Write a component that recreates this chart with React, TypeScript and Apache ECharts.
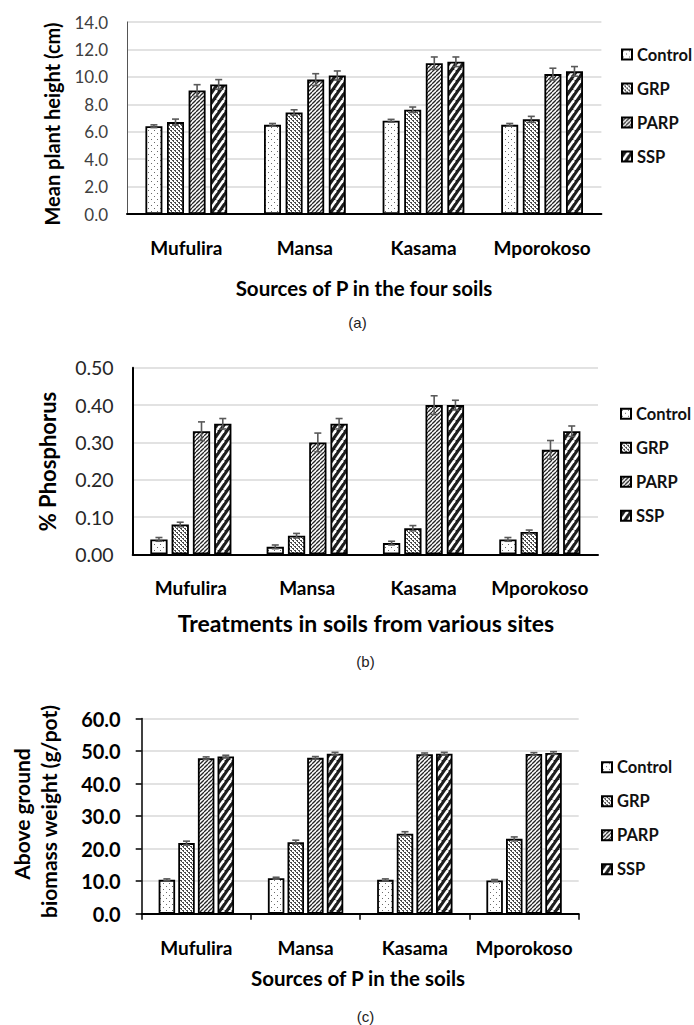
import React, { useEffect, useRef } from 'react';
import * as echarts from 'echarts';

const categories = ['Mufulira', 'Mansa', 'Kasama', 'Mporokoso'];
const treatments = ['Control', 'GRP', 'PARP', 'SSP'];

// (a) Mean plant height (cm)
const heightControl = [6.4, 6.5, 6.8, 6.5];
const heightGRP = [6.7, 7.4, 7.6, 6.9];
const heightPARP = [9.0, 9.8, 11.0, 10.2];
const heightSSP = [9.45, 10.1, 11.1, 10.4];
const heightErrControl = [0.1, 0.1, 0.1, 0.1];
const heightErrGRP = [0.22, 0.2, 0.2, 0.22];
const heightErrPARP = [0.43, 0.43, 0.45, 0.43];
const heightErrSSP = [0.35, 0.33, 0.35, 0.35];

// (b) % Phosphorus
const phosControl = [0.04, 0.02, 0.03, 0.04];
const phosGRP = [0.08, 0.05, 0.07, 0.06];
const phosPARP = [0.33, 0.3, 0.4, 0.28];
const phosSSP = [0.35, 0.35, 0.4, 0.33];
const phosErrControl = [0.005, 0.005, 0.005, 0.005];
const phosErrGRP = [0.006, 0.006, 0.007, 0.005];
const phosErrPARP = [0.025, 0.025, 0.025, 0.025];
const phosErrSSP = [0.014, 0.014, 0.013, 0.014];

// (c) Above ground biomass weight (g/pot)
const bioControl = [10.4, 10.9, 10.4, 10.2];
const bioGRP = [21.7, 22.0, 24.6, 23.0];
const bioPARP = [47.8, 47.9, 49.0, 49.1];
const bioSSP = [48.3, 49.2, 49.2, 49.4];
const bioErrControl = [0.3, 0.3, 0.3, 0.3];
const bioErrGRP = [0.6, 0.6, 0.6, 0.6];
const bioErrPARP = [0.4, 0.4, 0.4, 0.4];
const bioErrSSP = [0.4, 0.4, 0.4, 0.4];

const FONT = 'Lato, "Open Sans", sans-serif';

function makePattern(kind: string): any {
  const c = document.createElement('canvas');
  let w = 6, h = 6;
  if (kind === 'GRP') { w = 4; h = 4; }
  if (kind === 'PARP') { w = 4; h = 4; }
  if (kind === 'SSP') { w = 7; h = 10; }
  c.width = w; c.height = h;
  const ctx = c.getContext('2d')!;
  if (kind === 'Control') {
    ctx.fillStyle = '#ffffff'; ctx.fillRect(0, 0, w, h);
    ctx.fillStyle = '#6a6a6a';
    ctx.fillRect(1, 1, 1, 1);
    ctx.fillRect(4, 4, 1, 1);
  } else if (kind === 'GRP') {
    ctx.fillStyle = '#ffffff'; ctx.fillRect(0, 0, w, h);
    ctx.fillStyle = '#4a4a4a';
    ctx.fillRect(0, 0, 2, 1);
    ctx.fillRect(1, 1, 1, 1);
    ctx.fillRect(2, 2, 2, 1);
    ctx.fillRect(3, 3, 1, 1);
  } else if (kind === 'PARP') {
    ctx.fillStyle = '#ffffff'; ctx.fillRect(0, 0, w, h);
    ctx.strokeStyle = '#262626'; ctx.lineWidth = 1.3;
    for (const x0 of [-w, 0, w]) {
      ctx.beginPath(); ctx.moveTo(x0, h); ctx.lineTo(x0 + w, 0); ctx.stroke();
    }
  } else {
    ctx.fillStyle = '#1e1e1e'; ctx.fillRect(0, 0, w, h);
    ctx.strokeStyle = '#ffffff'; ctx.lineWidth = 2.6;
    for (const x0 of [-w, 0, w]) {
      ctx.beginPath(); ctx.moveTo(x0, h); ctx.lineTo(x0 + w, 0); ctx.stroke();
    }
  }
  return { image: c, repeat: 'repeat', imageWidth: w, imageHeight: h };
}

type Panel = {
  values: number[][];
  errors: number[][];
  grid: any;
  max: number;
  interval: number;
  decimals: number;
  barWidth: number;
  barGapRatio: number;
  yLabelFont: any;
  yLabelMargin: number;
  yLineColor: string;
  yLineWidth: number;
  ticks: boolean;
};

const panels: Panel[] = [
  {
    values: [heightControl, heightGRP, heightPARP, heightSSP],
    errors: [heightErrControl, heightErrGRP, heightErrPARP, heightErrSSP],
    grid: { left: 127, right: 92.6, top: 22, bottom: 811 },
    max: 14, interval: 2, decimals: 1,
    barWidth: 17, barGapRatio: 0.27,
    yLabelFont: { fontSize: 17, fontWeight: 'normal', color: '#404040' },
    yLabelMargin: 19, yLineColor: '#555', yLineWidth: 1, ticks: false,
  },
  {
    values: [phosControl, phosGRP, phosPARP, phosSSP],
    errors: [phosErrControl, phosErrGRP, phosErrPARP, phosErrSSP],
    grid: { left: 132.7, right: 96, top: 367.8, bottom: 470.7 },
    max: 0.5, interval: 0.1, decimals: 2,
    barWidth: 17.3, barGapRatio: 0.23,
    yLabelFont: { fontSize: 19.5, fontWeight: 'normal', color: '#262626' },
    yLabelMargin: 19, yLineColor: '#000', yLineWidth: 2, ticks: false,
  },
  {
    values: [bioControl, bioGRP, bioPARP, bioSSP],
    errors: [bioErrControl, bioErrGRP, bioErrPARP, bioErrSSP],
    grid: { left: 141.7, right: 115.3, top: 718.5, bottom: 111.3 },
    max: 60, interval: 10, decimals: 1,
    barWidth: 16.5, barGapRatio: 0.19,
    yLabelFont: { fontSize: 20, fontWeight: 'bold', color: '#000' },
    yLabelMargin: 21, yLineColor: '#000', yLineWidth: 1.5, ticks: true,
  },
];

const legendPos = [
  { left: 621, top: 46 },
  { left: 620, top: 405.3 },
  { left: 601, top: 758.7 },
];

function buildOption() {
  const patterns = treatments.map((t) => makePattern(t));
  const grid: any[] = [];
  const xAxis: any[] = [];
  const yAxis: any[] = [];
  const series: any[] = [];
  const legend: any[] = [];

  panels.forEach((p, pi) => {
    grid.push({ ...p.grid, containLabel: false });
    xAxis.push({
      type: 'category', gridIndex: pi, data: categories,
      axisLine: { lineStyle: { color: '#000', width: 2 } },
      axisTick: { show: p.ticks, length: 6, lineStyle: { color: '#000', width: 1.5 } },
      axisLabel: { interval: 0, margin: 24, fontFamily: FONT, fontSize: 19, fontWeight: 'bold', color: '#000' },
    });
    yAxis.push({
      type: 'value', gridIndex: pi, min: 0, max: p.max, interval: p.interval,
      axisLine: { show: true, lineStyle: { color: p.yLineColor, width: p.yLineWidth } },
      axisTick: { show: p.ticks, length: 6, lineStyle: { color: '#000', width: 1.5 } },
      splitLine: { lineStyle: { color: '#d9d9d9', width: 1.5 } },
      axisLabel: {
        margin: p.yLabelMargin, fontFamily: FONT, ...p.yLabelFont,
        formatter: (v: number) => v.toFixed(p.decimals),
      },
    });
    treatments.forEach((t, si) => {
      series.push({
        type: 'bar', name: t, xAxisIndex: pi, yAxisIndex: pi,
        data: p.values[si], barWidth: p.barWidth, barGap: (p.barGapRatio * 100) + '%',
        itemStyle: { color: patterns[si], borderColor: '#000', borderWidth: 1.8 },
        z: 2,
      });
    });
    const errData: number[][] = [];
    treatments.forEach((t, si) => {
      categories.forEach((c, ci) => {
        errData.push([ci, si, p.values[si][ci], p.errors[si][ci]]);
      });
    });
    const pitch = p.barWidth * (1 + p.barGapRatio);
    series.push({
      type: 'custom', name: 'err' + pi, xAxisIndex: pi, yAxisIndex: pi,
      data: errData, encode: { x: 0, y: 2 }, z: 5, silent: true,
      renderItem: (params: any, api: any) => {
        const ci = api.value(0);
        const si = api.value(1);
        const v = api.value(2);
        const e = api.value(3);
        const top = api.coord([ci, v + e]);
        const bot = api.coord([ci, v - e]);
        const x = top[0] + (si - 1.5) * pitch;
        const cap = 3.5;
        const style = { stroke: '#595959', lineWidth: 1.6 };
        return {
          type: 'group',
          children: [
            { type: 'line', shape: { x1: x, y1: top[1], x2: x, y2: bot[1] }, style },
            { type: 'line', shape: { x1: x - cap, y1: top[1], x2: x + cap, y2: top[1] }, style },
            { type: 'line', shape: { x1: x - cap, y1: bot[1], x2: x + cap, y2: bot[1] }, style },
          ],
        };
      },
    });
    legend.push({
      data: treatments, orient: 'vertical', left: legendPos[pi].left, top: legendPos[pi].top,
      padding: 0, itemWidth: 10, itemHeight: 10, itemGap: 17, icon: 'rect', selectedMode: false,
      textStyle: { fontFamily: FONT, fontSize: 16.5, fontWeight: 'bold', color: '#111' },
    });
  });

  const txt = (text: string, x: number, y: number, size: number, opts: any = {}) => ({
    type: 'text', x, y, rotation: opts.rotate ? Math.PI / 2 : 0,
    style: {
      text, fontFamily: opts.family || FONT, fontSize: size, fontWeight: opts.weight || 'bold',
      fill: opts.color || '#000', textAlign: 'center', textVerticalAlign: 'middle',
    },
  });
  const ARIAL = '"Liberation Sans", Arial, sans-serif';

  const graphic = [
    txt('Mean plant height (cm)', 51.7, 124, 20, { rotate: true }),
    txt('Sources of P in the four soils', 364, 288.3, 20.5),
    txt('(a)', 357.5, 322.7, 15, { weight: 'normal', family: ARIAL, color: '#222' }),
    txt('% Phosphorus', 47.8, 461.5, 22, { rotate: true }),
    txt('Treatments in soils from various sites', 366, 622.7, 23),
    txt('(b)', 365.5, 661.7, 15, { weight: 'normal', family: ARIAL, color: '#222' }),
    txt('Above ground', 21.7, 814, 21, { rotate: true }),
    txt('biomass weight (g/pot)', 48.3, 811.5, 21, { rotate: true }),
    txt('Sources of P in the soils', 358, 978.3, 20.5),
    txt('(c)', 365.5, 1016.7, 15, { weight: 'normal', family: ARIAL, color: '#222' }),
  ];

  return {
    animation: false,
    backgroundColor: '#ffffff',
    grid, xAxis, yAxis, series, legend, graphic,
  };
}

export default function App() {
  const ref = useRef<HTMLDivElement>(null);
  useEffect(() => {
    if (!ref.current) return;
    const chart = echarts.init(ref.current, undefined, { renderer: 'svg' });
    chart.setOption(buildOption() as any);
    return () => chart.dispose();
  }, []);
  return (
    <div
      ref={ref}
      style={{ position: 'absolute', left: 0, top: 0, width: 694, height: 1025, background: '#fff' }}
    />
  );
}
